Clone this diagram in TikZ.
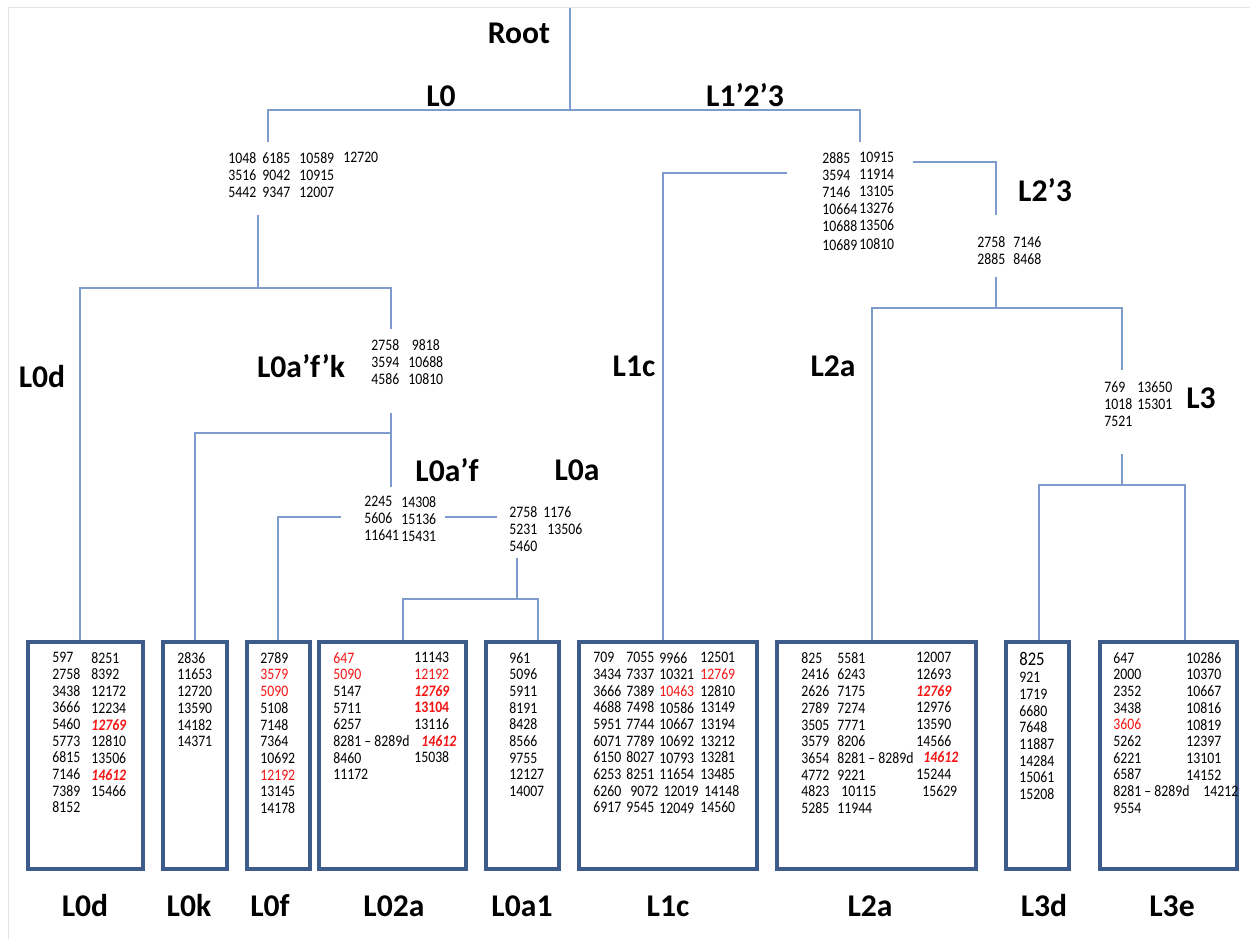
\documentclass[tikz,border=0pt]{standalone}
\usepackage{fontspec}
\setmainfont{Carlito}
\newfontfamily\numfam[FakeStretch=0.86]{Carlito}
\usetikzlibrary{fit}
\definecolor{connblue}{RGB}{125,155,205}
\definecolor{boxblue}{RGB}{62,92,138}
\definecolor{hired}{RGB}{245,20,20}
\newcommand\mynumt{\numfam\fontsize{9.1}{9.7}\selectfont}
\newcommand\mynumb{\numfam\fontsize{9.1}{9.5}\selectfont}
\newcommand\mylab{\fontsize{18}{20}\selectfont\bfseries}
\newcommand\rd[1]{\textcolor{hired}{#1}}
\newcommand\rbi[1]{\textcolor{hired}{\bfseries\itshape #1}}
\newcommand\rb[1]{\textcolor{hired}{\bfseries #1}}
\newcommand\rng{8281{\kern1.8pt}–{\kern1.8pt}8289d}
\tikzset{
  numt/.style={font=\mynumt, anchor=north west, inner sep=0pt, align=left},
  numb/.style={font=\mynumb, anchor=north west, inner sep=0pt, align=left},
  lab/.style={font=\mylab, inner sep=0pt},
  conn/.style={draw=connblue, line width=1pt},
  leafbox/.style={draw=boxblue, line width=2.3pt, inner sep=0pt, fill=white},
}
\begin{document}
\begin{tikzpicture}[x=0.02cm,y=-0.02cm]
\useasboundingbox (0,0) rectangle (1250,939);
\fill[white] (0,0) rectangle (1250,939);
\draw[black!10, line width=0.4pt] (8,939) -- (8,7) -- (1250,7);

% ---------- leaf boxes ----------
\node[leafbox, fit={(28,642) (143,869)}] (bL0d) {};
\node[leafbox, fit={(163,642) (227,869)}] (bL0k) {};
\node[leafbox, fit={(247,642) (310,869)}] (bL0f) {};
\node[leafbox, fit={(319,642) (466,869)}] (bL02a) {};
\node[leafbox, fit={(486,642) (559,869)}] (bL0a1) {};
\node[leafbox, fit={(579,642) (757,869)}] (bL1c) {};
\node[leafbox, fit={(777,642) (976,869)}] (bL2a) {};
\node[leafbox, fit={(1006,642) (1069,869)}] (bL3d) {};
\node[leafbox, fit={(1100,642) (1237,869)}] (bL3e) {};

% ---------- labels ----------
\node[lab] (tRoot) at (519,33) {Root};
\node[lab] (tL0) at (441,96) {L0};
\node[lab] (tL123) at (745,95) {L1’2’3};
\node[lab] (tL23) at (1045,190) {L2’3};
\node[lab] (tL0d) at (42,377) {L0d};
\node[lab] (tL0afk) at (301,366) {L0a’f’k};
\node[lab] (tL0af) at (447,470) {L0a’f};
\node[lab] (tL0a) at (577,470) {L0a};
\node[lab] (tL1c) at (634,366) {L1c};
\node[lab] (tL2a) at (833,366) {L2a};
\node[lab] (tL3) at (1201,398) {L3};

\node[lab] (uL0d) at (85,906) {L0d};
\node[lab] (uL0k) at (189,906) {L0k};
\node[lab] (uL0f) at (270,906) {L0f};
\node[lab] (uL02a) at (394,906) {L02a};
\node[lab] (uL0a1) at (522,906) {L0a1};
\node[lab] (uL1c) at (668,906) {L1c};
\node[lab] (uL2a) at (870,906) {L2a};
\node[lab] (uL3d) at (1044,906) {L3d};
\node[lab] (uL3e) at (1172,906) {L3e};

% ---------- internal number blocks ----------
\node[numt] (n0a) at (228,152) {1048\\3516\\5442};
\node[numt] (n0b) at (262,152) {6185\\9042\\9347};
\node[numt] (n0c) at (299,152) {10589\\10915\\12007};
\node[numt] (n0d) at (343,152) {12720};

\node[numt] (n1a) at (822,152) {2885\\3594\\7146\\10664\\10688\\[1pt]10689};
\node[numt] (n1b) at (859,152) {10915\\11914\\13105\\13276\\13506\\[1pt]10810};

\node[numt] (n23a) at (977,236) {2758\\2885};
\node[numt] (n23b) at (1013,236) {7146\\8468};

\node[numt] (nafka) at (371,339) {2758\\3594\\4586};
\node[numt] (nafkb) at (408,339) {\hspace*{2pt}9818\\10688\\10810};

\node[numt] (nafa) at (364,496) {2245\\5606\\11641};
\node[numt] (nafb) at (401,496) {14308\\15136\\15431};

\node[numt] (naa) at (509,506) {2758\\5231\\5460};
\node[numt] (nab) at (543,506) {1176\\\hspace*{2.3pt}13506};

\node[numt] (n3a) at (1104,381) {769\\1018\\7521};
\node[numt] (n3b) at (1137,381) {13650\\15301};

% ---------- leaf contents ----------
\node[numb] (dL0da) at (52,652) {597\\2758\\3438\\3666\\5460\\5773\\6815\\7146\\7389\\8152};
\node[numb] (dL0db) at (91,652) {8251\\8392\\12172\\12234\\\rbi{12769}\\12810\\13506\\\rbi{14612}\\15466};

\node[numb] (dL0k) at (177,652) {2836\\11653\\12720\\13590\\14182\\14371};

\node[numb] (dL0f) at (260,652) {2789\\\rd{3579}\\\rd{5090}\\5108\\7148\\7364\\10692\\\rd{12192}\\13145\\14178};

\node[numb] (dL02aa) at (333,652) {\rd{647}\\\rd{5090}\\5147\\5711\\6257\\\rng\\8460\\11172};
\node[numb] (dL02ab) at (414,652) {11143\\\rd{12192}\\\rbi{12769}\\\rb{13104}\\13116\\\hspace*{4pt}\rbi{14612}\\15038};

\node[numb] (dL0a1) at (509,652) {961\\5096\\5911\\8191\\8428\\8566\\9755\\12127\\14007};

\node[numb] (dL1ca) at (593,652) {709\\3434\\3666\\4688\\5951\\6071\\6150\\6253\\6260\\6917};
\node[numb] (dL1cb) at (626,652) {7055\\7337\\7389\\7498\\7744\\7789\\8027\\8251\\\hspace*{2.3pt}9072\\9545};
\node[numb] (dL1cc) at (659,652) {9966\\10321\\\rd{10463}\\10586\\10667\\10692\\10793\\11654\\\hspace*{2.5pt}12019\\12049};
\node[numb] (dL1cd) at (700,652) {12501\\\rd{12769}\\12810\\13149\\13194\\13212\\13281\\13485\\\hspace*{2.3pt}14148\\14560};

\node[numb] (dL2aa) at (801,652) {825\\2416\\2626\\2789\\3505\\3579\\3654\\4772\\4823\\5285};
\node[numb] (dL2ab) at (837,652) {5581\\6243\\7175\\7274\\7771\\8206\\\rng\\9221\\\hspace*{2.3pt}10115\\11944};
\node[numb] (dL2ac) at (916,652) {12007\\12693\\\rbi{12769}\\12976\\13590\\14566\\\hspace*{4pt}\rbi{14612}\\15244\\\hspace*{3.4pt}15629};

\node[font=\numfam\fontsize{11}{12}\selectfont, anchor=north west, inner sep=0pt] (dL3dh) at (1019,652) {825};
\node[numb] (dL3d) at (1019,672) {921\\1719\\6680\\7648\\11887\\14284\\15061\\15208};

\node[numb] (dL3ea) at (1113,652) {647\\2000\\2352\\3438\\\rd{3606}\\5262\\6221\\6587\\\rng\\9554};
\node[numb] (dL3eb) at (1186,652) {10286\\10370\\10667\\10816\\10819\\12397\\13101\\14152\\\hspace*{9.7pt}14212};

% ---------- junction coordinates ----------
\coordinate (rt) at (570,8);
\coordinate (rj) at (570,110);
\coordinate (j0l) at (268,110);
\coordinate (j0e) at (268,142);
\coordinate (j1r) at (860,110);
\coordinate (j1e) at (860,142);
\coordinate (k0s) at (258,215);
\coordinate (k0j) at (258,288);
\coordinate (k0l) at (80,288);
\coordinate (k0r) at (391,288);
\coordinate (k0e) at (391,329);
\coordinate (afks) at (391,413);
\coordinate (afkj) at (391,433);
\coordinate (afke) at (391,487);
\coordinate (afkl) at (195,433);
\coordinate (afs) at (341,517);
\coordinate (afl) at (278,517);
\coordinate (afr) at (445,517);
\coordinate (afre) at (497,517);
\coordinate (as) at (517,558);
\coordinate (aj) at (517,599);
\coordinate (al) at (403,599);
\coordinate (ar) at (538,599);
\coordinate (c1s) at (787,173);
\coordinate (c1l) at (663,173);
\coordinate (c2s) at (913,162);
\coordinate (c2r) at (996,162);
\coordinate (c2e) at (996,215);
\coordinate (d2s) at (996,277);
\coordinate (d2j) at (996,308);
\coordinate (d2l) at (872,308);
\coordinate (d2r) at (1122,308);
\coordinate (d2e) at (1122,370);
\coordinate (e3s) at (1122,454);
\coordinate (e3j) at (1122,485);
\coordinate (e3l) at (1039,485);
\coordinate (e3r) at (1185,485);

% ---------- connectors ----------
\draw[conn] (rt) -- (rj);
\draw[conn] (j0e) -- (j0l) -- (j1r) -- (j1e);
\draw[conn] (k0s) -- (k0j);
\draw[conn] (k0l |- bL0d.north) -- (k0l) -- (k0r) -- (k0e);
\draw[conn] (afks) -- (afke);
\draw[conn] (afkl |- bL0k.north) -- (afkl) -- (afkj);
\draw[conn] (afs) -- (afl) -- (afl |- bL0f.north);
\draw[conn] (afr) -- (afre);
\draw[conn] (as) -- (aj);
\draw[conn] (al |- bL02a.north) -- (al) -- (ar) -- (ar |- bL0a1.north);
\draw[conn] (c1s) -- (c1l) -- (c1l |- bL1c.north);
\draw[conn] (c2s) -- (c2r) -- (c2e);
\draw[conn] (d2s) -- (d2j);
\draw[conn] (d2l |- bL2a.north) -- (d2l) -- (d2r) -- (d2e);
\draw[conn] (e3s) -- (e3j);
\draw[conn] (e3l |- bL3d.north) -- (e3l) -- (e3r) -- (e3r |- bL3e.north);
\end{tikzpicture}
\end{document}
